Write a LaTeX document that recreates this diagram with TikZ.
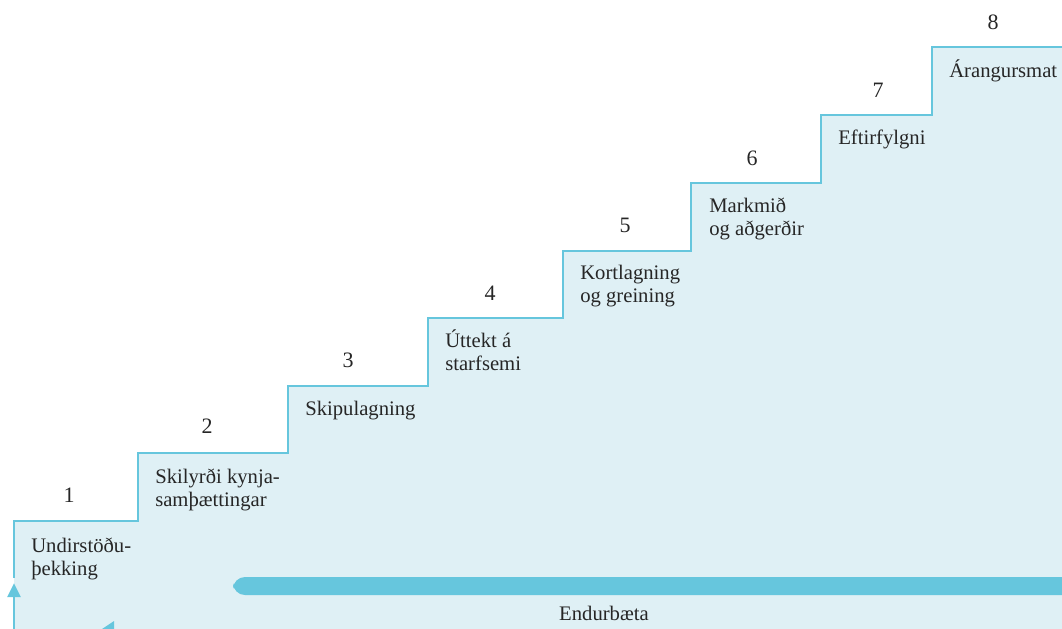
\documentclass[tikz,border=0pt]{standalone}
\usepackage{fontspec}
\setmainfont{Liberation Serif}
\usetikzlibrary{arrows.meta}
\definecolor{stairfill}{HTML}{DFF0F5}
\definecolor{stairline}{HTML}{66C6DD}
\definecolor{txt}{HTML}{262626}
\begin{document}
\begin{tikzpicture}[x=0.75pt,y=-0.75pt,
  lbl/.style={anchor=base west, inner sep=0pt, text=txt, font=\fontsize{15.5}{17.5}\selectfont},
  num/.style={anchor=base, inner sep=0pt, text=txt, font=\fontsize{16.5}{18}\selectfont},
  stairedge/.style={draw=stairline, line width=2.1pt, line join=miter}]
\useasboundingbox (0,0) rectangle (1062,628);
\clip (0,0) rectangle (1062,628);
% staircase fill
\fill[stairfill] (14,640) -- (14,521) -- (138,521) -- (138,453) -- (288,453) -- (288,386)
  -- (428,386) -- (428,318) -- (563,318) -- (563,251) -- (691,251) -- (691,183)
  -- (821,183) -- (821,115) -- (932,115) -- (932,47) -- (1070,47) -- (1070,640) -- cycle;
% staircase outline
\draw[stairedge] (14,578) -- (14,521) -- (138,521) -- (138,453) -- (288,453) -- (288,386)
  -- (428,386) -- (428,318) -- (563,318) -- (563,251) -- (691,251) -- (691,183)
  -- (821,183) -- (821,115) -- (932,115) -- (932,47) -- (1070,47);
% improvement bar
\fill[stairline, rounded corners=9] (233,577) rectangle (1080,595);
% arrows
\coordinate (a0) at (14,640);
\coordinate (a1) at (14,583);
\draw[stairline, line width=2.2pt, -{Triangle[length=10.5pt,width=9.5pt]}] (a0) -- (a1);
\fill[stairline] (114,621) -- (114,641) -- (99,631) -- cycle;
% numbers
\node[num] (n1) at (69,502) {1};
\node[num] (n2) at (207,433) {2};
\node[num] (n3) at (348,367) {3};
\node[num] (n4) at (490,300) {4};
\node[num] (n5) at (625,232) {5};
\node[num] (n6) at (752,165) {6};
\node[num] (n7) at (878,97) {7};
\node[num] (n8) at (993,29) {8};
% labels
\node[lbl] (l1) at (31,552) {\begin{tabular}[t]{@{}l@{}}Undirstöðu-\\þekking\end{tabular}};
\node[lbl] (l2) at (155,483) {\begin{tabular}[t]{@{}l@{}}Skilyrði kynja-\\samþættingar\end{tabular}};
\node[lbl] (l3) at (305,415) {Skipulagning};
\node[lbl] (l4) at (445,347) {\begin{tabular}[t]{@{}l@{}}Úttekt á\\starfsemi\end{tabular}};
\node[lbl] (l5) at (580,279) {\begin{tabular}[t]{@{}l@{}}Kortlagning\\og greining\end{tabular}};
\node[lbl] (l6) at (709,212) {\begin{tabular}[t]{@{}l@{}}Markmið\\og aðgerðir\end{tabular}};
\node[lbl] (l7) at (838,144) {Eftirfylgni};
\node[lbl] (l8) at (949,77) {Árangursmat};
\node[num, font=\fontsize{15.5}{17.5}\selectfont] (imp) at (604,620) {Endurbæta};
\end{tikzpicture}
\end{document}
